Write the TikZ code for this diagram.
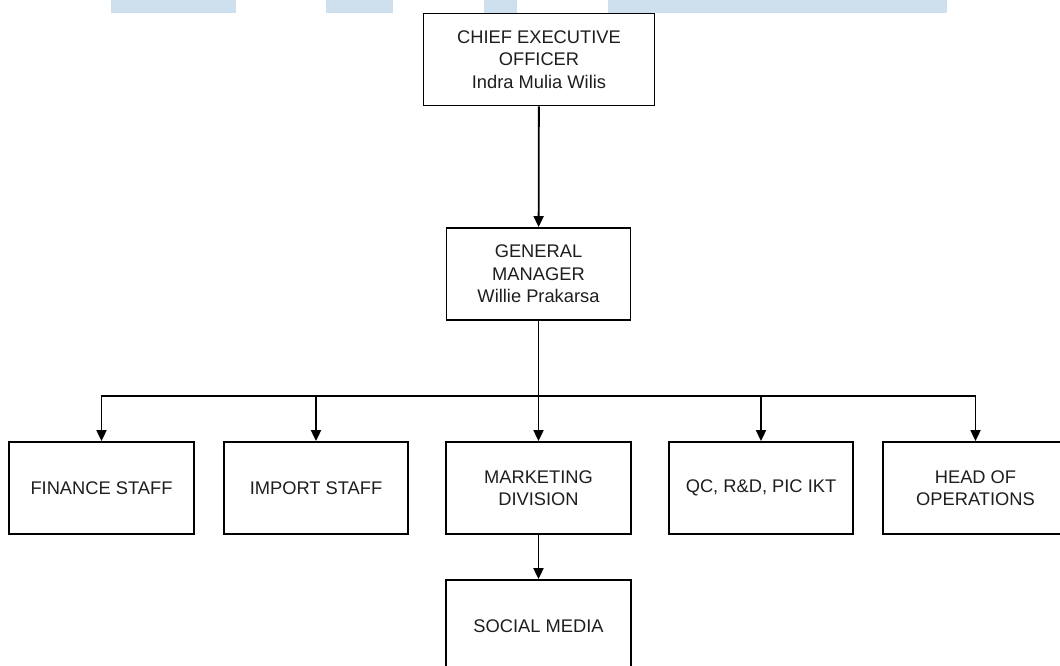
\documentclass[tikz,border=0pt]{standalone}
\usepackage{fontspec}
\setmainfont{Liberation Sans}
\usetikzlibrary{arrows.meta}
\definecolor{barblue}{RGB}{206,223,238}
\definecolor{txt}{RGB}{30,30,30}
\begin{document}
\begin{tikzpicture}[x=1pt,y=-1pt,
  box/.style={draw=black,line width=1.8pt,rectangle,align=center,text=txt,
    font=\fontsize{18.3}{22.5}\selectfont,inner sep=0pt,minimum width=#1,minimum height=92pt},
  box/.default=185pt,
  conn/.style={line width=1.8pt,draw=black},
  arr/.style={conn,-{Triangle[length=11pt,width=10pt]}}]
\useasboundingbox (0,0) rectangle (1060,666);
\fill[white] (0,0) rectangle (1060,666);
% top bars
\fill[barblue] (111,0) rectangle (236,13);
\fill[barblue] (326,0) rectangle (393,13);
\fill[barblue] (484,0) rectangle (517,13);
\fill[barblue] (608,0) rectangle (947,13);
% nodes
\node[box=231pt] (ceo) at (539,59.5) {CHIEF EXECUTIVE\\OFFICER\\Indra Mulia Wilis};
\node[box=184pt] (gm) at (538.5,274) {GENERAL\\MANAGER\\Willie Prakarsa};
\node[box=185pt] (fin) at (101.5,488) {FINANCE STAFF};
\node[box=184pt] (imp) at (316,488) {IMPORT STAFF};
\node[box=185pt] (mkt) at (538.5,488) {MARKETING\\DIVISION};
\node[box=184pt] (qc) at (761,488) {QC, R\&D, PIC IKT};
\node[box=185pt] (hop) at (975.5,488) {HEAD OF\\OPERATIONS};
\node[box=185pt] (soc) at (538.5,626) {SOCIAL MEDIA};
\coordinate (bus) at (538.5,396);
% connectors
\draw[arr] (ceo) -- (gm);
\draw[conn] (gm) -- (bus);
\draw[arr] (bus) -| (fin);
\draw[arr] (bus) -| (imp);
\draw[arr] (bus) -- (mkt);
\draw[arr] (bus) -| (qc);
\draw[arr] (bus) -| (hop);
\draw[arr] (mkt) -- (soc);
\end{tikzpicture}
\end{document}
